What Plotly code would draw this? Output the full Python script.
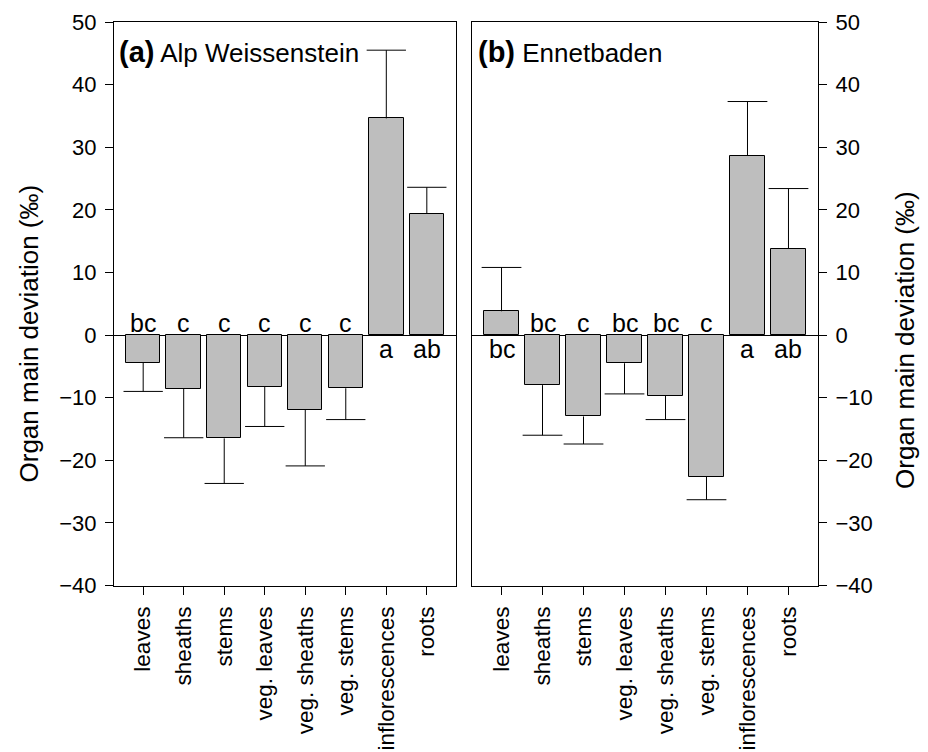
import plotly.graph_objects as go

categories = ["leaves", "sheaths", "stems", "veg. leaves", "veg. sheaths",
              "veg. stems", "inflorescences", "roots"]
alp_mean = [-4.4, -8.6, -16.5, -8.3, -11.9, -8.5, 34.6, 19.4]
alp_err = [4.6, 7.8, 7.2, 6.3, 9.0, 5.0, 10.9, 4.2]
alp_letters = ["bc", "c", "c", "c", "c", "c", "a", "ab"]
enn_mean = [3.8, -8.0, -13.0, -4.5, -9.7, -22.6, 28.6, 13.8]
enn_err = [7.0, 8.0, 4.4, 4.9, 3.8, 3.7, 8.7, 9.6]
enn_letters = ["bc", "bc", "c", "bc", "bc", "c", "a", "ab"]
panel_titles = ["<span style='font-size:29px'><b>(a)</b></span> Alp Weissenstein",
                "<span style='font-size:29px'><b>(b)</b></span> Ennetbaden"]
y_title = "Organ main deviation (‰)"
y_ticks = [-40, -30, -20, -10, 0, 10, 20, 30, 40, 50]

FONT = "Liberation Sans, Arial, Helvetica, sans-serif"
BAR_COLOR = "#bebebe"
CAP_HALF = 0.485

W, H = 928, 752
fig = go.Figure()

idx = list(range(len(categories)))


def add_panel(means, errs, letters, xa, ya):
    fig.add_trace(go.Bar(
        x=idx, y=means, width=0.85, xaxis=xa, yaxis=ya,
        marker=dict(color=BAR_COLOR, line=dict(color="black", width=1)),
        showlegend=False, hoverinfo="skip"))
    ex, ey = [], []
    for i, m, e in zip(idx, means, errs):
        end = m + e if m >= 0 else m - e
        ex += [i, i, None, i - CAP_HALF, i + CAP_HALF, None]
        ey += [m, end, None, end, end, None]
    fig.add_trace(go.Scatter(
        x=ex, y=ey, mode="lines", xaxis=xa, yaxis=ya,
        line=dict(color="black", width=1), showlegend=False, hoverinfo="skip"))
    xr = "x" if xa == "x" else "x2"
    yr = "y" if ya == "y" else "y2"
    for i, m, lab in zip(idx, means, letters):
        if m < 0:
            fig.add_annotation(x=i, y=0, xref=xr, yref=yr, text=lab, showarrow=False,
                               yanchor="bottom", yshift=-4,
                               font=dict(family=FONT, size=25, color="black"))
        else:
            fig.add_annotation(x=i, y=0, xref=xr, yref=yr, text=lab, showarrow=False,
                               yanchor="top", yshift=2,
                               font=dict(family=FONT, size=25, color="black"))


add_panel(alp_mean, alp_err, alp_letters, "x", "y")
add_panel(enn_mean, enn_err, enn_letters, "x2", "y2")

xcommon = dict(range=[-0.72, 7.72], tickvals=idx, ticktext=categories,
               tickangle=-90, showline=True, mirror=True, linecolor="black",
               linewidth=1.2, ticks="outside", ticklen=8, tickwidth=1,
               tickcolor="black", showgrid=False, zeroline=False,
               tickfont=dict(family=FONT, size=22.5, color="black"),
               ticklabelstandoff=3, automargin=False, fixedrange=True)
ycommon = dict(range=[-40, 50], tickvals=y_ticks, showline=True, mirror=True,
               linecolor="black", linewidth=1.2, ticks="outside", ticklen=8,
               tickwidth=1, tickcolor="black", showgrid=False, zeroline=True,
               zerolinecolor="black", zerolinewidth=1,
               tickfont=dict(family=FONT, size=22, color="black"),
               ticklabelstandoff=4, automargin=False, fixedrange=True)

ydom = [1 - 585.5 / H, 1 - 22 / H]
fig.update_layout(
    width=W, height=H, margin=dict(l=0, r=0, t=0, b=0),
    paper_bgcolor="white", plot_bgcolor="white", bargap=0,
    xaxis=dict(domain=[114 / W, 456 / W], anchor="y", **xcommon),
    xaxis2=dict(domain=[472 / W, 818 / W], anchor="y2", **xcommon),
    yaxis=dict(domain=ydom, anchor="x", side="left", **ycommon),
    yaxis2=dict(domain=ydom, anchor="x2", side="right", **ycommon),
)

fig.add_annotation(x=117 / W, y=1 - 52 / H, xref="paper", yref="paper",
                   text=panel_titles[0], showarrow=False, xanchor="left",
                   yanchor="middle", font=dict(family=FONT, size=26, color="black"))
fig.add_annotation(x=476 / W, y=1 - 52 / H, xref="paper", yref="paper",
                   text=panel_titles[1], showarrow=False, xanchor="left",
                   yanchor="middle", font=dict(family=FONT, size=26, color="black"))
fig.add_annotation(x=28 / W, y=1 - 333.5 / H, xref="paper", yref="paper",
                   text=y_title, showarrow=False, textangle=-90,
                   xanchor="center", yanchor="middle",
                   font=dict(family=FONT, size=26, color="black"))
fig.add_annotation(x=905 / W, y=1 - 340 / H, xref="paper", yref="paper",
                   text=y_title, showarrow=False, textangle=-90,
                   xanchor="center", yanchor="middle",
                   font=dict(family=FONT, size=26, color="black"))

fig.write_html("out.html")
